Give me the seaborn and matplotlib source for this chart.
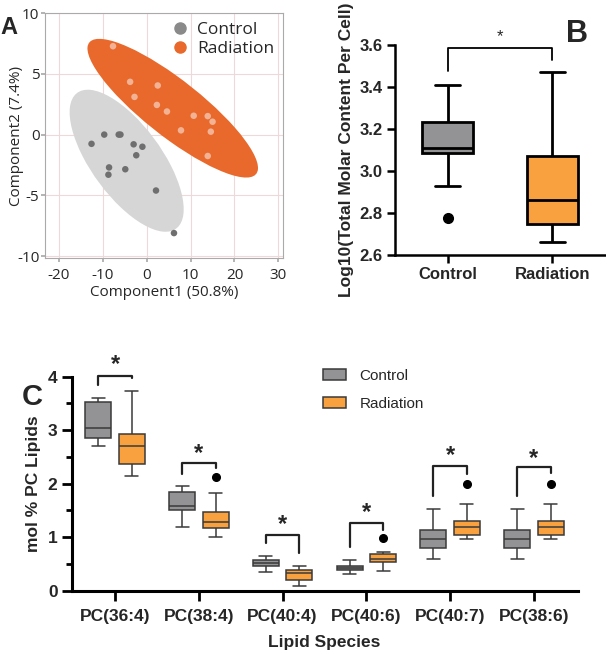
import numpy as np
import pandas as pd
import seaborn as sns
import matplotlib.pyplot as plt
from matplotlib.patches import Ellipse, Patch
from matplotlib.lines import Line2D

sns.set_theme(style="white")
plt.rcParams['font.family'] = ['Liberation Sans', 'DejaVu Sans']
plt.rcParams['axes.unicode_minus'] = False

# --- panel A: PCA scores ---
ctrl_pc1 = [-12.6, -9.7, -6.4, -6.0, -3.0, -1.0, -2.4, -8.6, -8.75, -4.9, 2.1, 6.2]
ctrl_pc2 = [-0.76, 0.0, 0.0, 0.0, -0.8, -1.0, -1.7, -2.7, -3.3, -2.85, -4.6, -8.1]
rad_pc1 = [-7.7, -3.8, -2.8, 2.5, 2.3, 4.6, 10.7, 13.9, 15.0, 14.6, 7.8, 13.9]
rad_pc2 = [7.27, 4.34, 3.1, 4.04, 2.44, 1.9, 1.55, 1.52, 1.06, 0.24, 0.35, -1.76]

# --- panel B: total molar content (log10) ---
groups = ['Control', 'Radiation']
total_ctrl = [2.775, 2.93, 3.084, 3.09, 3.108, 3.15, 3.232, 3.30, 3.41]
total_rad = [2.66, 2.70, 2.746, 2.80, 2.862, 2.95, 3.071, 3.20, 3.471]

# --- panel C: mol % PC lipids ---
species = ['PC(36:4)', 'PC(38:4)', 'PC(40:4)', 'PC(40:6)', 'PC(40:7)', 'PC(38:6)']
pc_ctrl = {
    'PC(36:4)': [2.70, 2.78, 2.86, 2.95, 3.05, 3.30, 3.53, 3.57, 3.61],
    'PC(38:4)': [1.20, 1.35, 1.50, 1.55, 1.59, 1.70, 1.84, 1.90, 1.96],
    'PC(40:4)': [0.35, 0.40, 0.455, 0.48, 0.51, 0.54, 0.57, 0.60, 0.64],
    'PC(40:6)': [0.31, 0.35, 0.39, 0.41, 0.43, 0.45, 0.47, 0.52, 0.57],
    'PC(40:7)': [0.59, 0.70, 0.80, 0.88, 0.96, 1.05, 1.13, 1.30, 1.52],
    'PC(38:6)': [0.59, 0.70, 0.80, 0.88, 0.96, 1.05, 1.13, 1.30, 1.52],
}
pc_rad = {
    'PC(36:4)': [2.15, 2.25, 2.37, 2.55, 2.70, 2.80, 2.93, 3.30, 3.74],
    'PC(38:4)': [1.01, 1.10, 1.18, 1.22, 1.29, 1.38, 1.48, 1.82, 2.13],
    'PC(40:4)': [0.09, 0.15, 0.20, 0.28, 0.34, 0.36, 0.39, 0.43, 0.47],
    'PC(40:6)': [0.36, 0.45, 0.54, 0.57, 0.60, 0.64, 0.68, 0.72, 0.98],
    'PC(40:7)': [0.97, 1.00, 1.04, 1.12, 1.20, 1.25, 1.31, 1.63, 1.99],
    'PC(38:6)': [0.97, 1.00, 1.04, 1.12, 1.20, 1.25, 1.31, 1.63, 1.99],
}
# significance brackets: top, left end, right end, star
br_top = [4.01, 2.38, 1.04, 1.27, 2.34, 2.31]
br_left = [3.84, 2.19, 0.885, 0.81, 1.77, 1.77]
br_right = [3.97, 2.30, 0.70, 1.13, 2.18, 2.20]
star_y = [4.22, 2.56, 1.24, 1.47, 2.53, 2.48]

grey_box = '#939396'
orange_box = '#F9A03F'
sans = ['Open Sans', 'DejaVu Sans']

fig = plt.figure(figsize=(6.06, 6.51), dpi=100)

# ================= A =================
axA = fig.add_axes([0.0743, 0.6037, 0.393, 0.3763])
pca = pd.DataFrame({
    'pc1': ctrl_pc1 + rad_pc1,
    'pc2': ctrl_pc2 + rad_pc2,
    'group': ['Control'] * len(ctrl_pc1) + ['Radiation'] * len(rad_pc1),
})

def conf_ellipse(x, y, color):
    cov = np.cov(x, y)
    vals, vecs = np.linalg.eigh(cov)
    order = vals.argsort()[::-1]
    vals, vecs = vals[order], vecs[:, order]
    k = np.sqrt(5.991)
    ang = np.degrees(np.arctan2(vecs[1, 0], vecs[0, 0]))
    return Ellipse((np.mean(x), np.mean(y)), 2 * k * np.sqrt(vals[0]), 2 * k * np.sqrt(vals[1]),
                   angle=ang, facecolor=color, edgecolor='none', zorder=1)

axA.add_patch(conf_ellipse(ctrl_pc1, ctrl_pc2, '#D6D6D6'))
axA.add_patch(conf_ellipse(rad_pc1, rad_pc2, '#E8692B'))
sns.scatterplot(data=pca, x='pc1', y='pc2', hue='group',
                palette={'Control': '#6f6f6f', 'Radiation': '#F4B294'},
                s=22, edgecolor='none', legend=False, ax=axA, zorder=3)
axA.set_xlim(-23.2, 31.1)
axA.set_ylim(-10.15, 10.0)
axA.set_xticks([-20, -10, 0, 10, 20, 30])
axA.set_yticks([-10, -5, 0, 5, 10])
axA.grid(True, color='#EED9D9', lw=0.8)
axA.set_axisbelow(True)
for s in axA.spines.values():
    s.set_color('#AAAAAA')
    s.set_linewidth(0.8)
axA.tick_params(labelsize=11, length=3, color='#AAAAAA', pad=1, left=True, bottom=True)
axA.tick_params(axis='x', pad=4)
for lab in axA.get_xticklabels() + axA.get_yticklabels():
    lab.set_family(sans)
axA.set_xlabel('Component1 (50.8%)', fontsize=11, family=sans, labelpad=2)
axA.set_ylabel('Component2 (7.4%)', fontsize=11, family=sans)
axA.yaxis.set_label_coords(-0.09, 0.5)
handles = [Line2D([], [], marker='o', ls='', color='#8a8a8a', markersize=8),
           Line2D([], [], marker='o', ls='', color='#E8692B', markersize=8)]
axA.legend(handles, groups, loc='upper right', frameon=False,
           handletextpad=0.0, borderaxespad=0.1, labelspacing=0.15,
           prop={'family': sans, 'size': 12.5})
fig.text(0.0, 0.975, 'A', fontsize=17, fontweight='bold', va='top')

# ================= B =================
axB = fig.add_axes([0.652, 0.6083, 0.348, 0.3226])
tot = pd.DataFrame({'group': ['Control'] * len(total_ctrl) + ['Radiation'] * len(total_rad),
                    'value': total_ctrl + total_rad})
sns.boxplot(data=tot, x='group', y='value', hue='group', palette=[grey_box, orange_box],
            saturation=1, width=0.48, linewidth=2.0, linecolor='black', fliersize=7,
            flierprops=dict(marker='o', markerfacecolor='black', markeredgecolor='black'),
            legend=False, ax=axB)
axB.set_xlim(-0.5, 1.51)
axB.set_ylim(2.6, 3.6)
axB.set_yticks([2.6, 2.8, 3.0, 3.2, 3.4, 3.6])
sns.despine(ax=axB)
for s in ['left', 'bottom']:
    axB.spines[s].set_linewidth(1.8)
    axB.spines[s].set_color('black')
axB.tick_params(axis='both', length=6, width=1.8, color='black', labelsize=12, pad=3,
                left=True, bottom=True)
for lab in axB.get_xticklabels() + axB.get_yticklabels():
    lab.set_fontweight('bold')
axB.set_xlabel('')
axB.set_ylabel('Log10(Total Molar Content Per Cell)', fontsize=12.5, fontweight='bold', labelpad=4)
axB.plot([0, 0, 1, 1], [3.476, 3.587, 3.587, 3.53], color='black', lw=1.3, clip_on=False)
axB.text(0.5, 3.64, '*', ha='center', va='center', fontsize=12)
fig.text(0.952, 0.948, 'B', fontsize=22, fontweight='bold', ha='center', va='center')

# ================= C =================
axC = fig.add_axes([0.118, 0.0926, 0.835, 0.3287])
rows = []
for sp in species:
    rows += [(sp, 'Control', v) for v in pc_ctrl[sp]]
    rows += [(sp, 'Radiation', v) for v in pc_rad[sp]]
pc = pd.DataFrame(rows, columns=['species', 'group', 'value'])
sns.boxplot(data=pc, x='species', y='value', hue='group', order=species,
            palette={'Control': grey_box, 'Radiation': orange_box}, saturation=1,
            width=0.8, gap=0.22, linewidth=1.1, linecolor='#3a3a3a', fliersize=5.5,
            flierprops=dict(marker='o', markerfacecolor='black', markeredgecolor='black'),
            ax=axC)
axC.set_xlim(-0.52, 5.52)
axC.set_ylim(0, 4)
axC.set_yticks([0, 1, 2, 3, 4])
axC.set_yticks([0.5, 1.5, 2.5, 3.5], minor=True)
sns.despine(ax=axC)
for s in ['left', 'bottom']:
    axC.spines[s].set_linewidth(2.2)
    axC.spines[s].set_color('black')
axC.tick_params(axis='both', which='major', length=7, width=2.0, color='black', labelsize=12.5,
                pad=3, left=True, bottom=True)
axC.tick_params(axis='x', pad=6)
axC.tick_params(axis='y', which='minor', length=4, width=2.0, color='black', left=True)
for lab in axC.get_xticklabels() + axC.get_yticklabels():
    lab.set_fontweight('bold')
axC.set_xlabel('Lipid Species', fontsize=12.5, fontweight='bold', labelpad=8)
axC.set_ylabel('mol % PC Lipids', fontsize=12.5, fontweight='bold', labelpad=5)
for i in range(len(species)):
    axC.plot([i - 0.2, i - 0.2, i + 0.2, i + 0.2],
             [br_left[i], br_top[i], br_top[i], br_right[i]],
             color='#222222', lw=1.6, clip_on=False)
    axC.text(i, star_y[i], '*', ha='center', va='center', fontsize=17, fontweight='bold')
axC.legend(handles=[Patch(facecolor=grey_box, edgecolor='#3a3a3a', lw=1.1),
                    Patch(facecolor=orange_box, edgecolor='#3a3a3a', lw=1.1)],
           labels=groups, loc='upper left', bbox_to_anchor=(0.47, 1.10),
           frameon=False, fontsize=11, handlelength=1.5, handleheight=0.75,
           labelspacing=0.9, handletextpad=0.9)
fig.text(0.053, 0.39, 'C', fontsize=21, fontweight='bold', ha='center', va='center')

fig.savefig('out.png', dpi=100)
